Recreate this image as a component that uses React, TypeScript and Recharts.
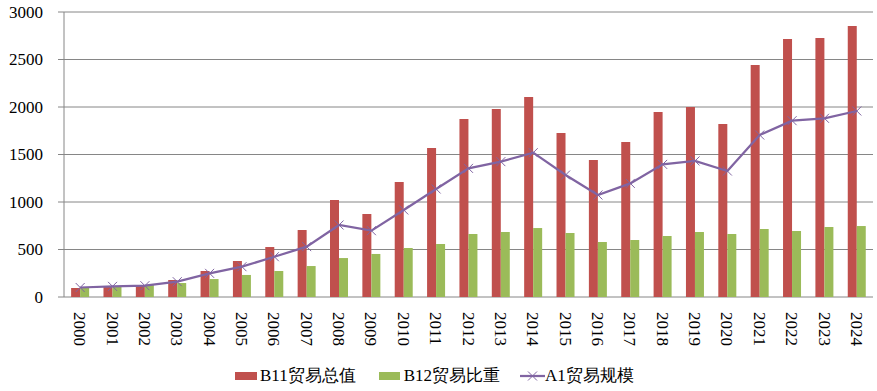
import React from 'react';
import { ComposedChart, Bar, Line, XAxis, YAxis, CartesianGrid } from 'recharts';

const years = ['2000','2001','2002','2003','2004','2005','2006','2007','2008','2009','2010','2011','2012','2013','2014','2015','2016','2017','2018','2019','2020','2021','2022','2023','2024'];
const b11Values = [95, 112, 119, 179, 274, 379, 526, 705, 1021, 874, 1211, 1568, 1874, 1979, 2105, 1726, 1442, 1632, 1947, 2000, 1821, 2442, 2716, 2726, 2853];
const b12Values = [98, 110, 126, 147, 189, 232, 274, 326, 410, 453, 516, 558, 663, 684, 726, 674, 579, 600, 642, 684, 663, 716, 695, 737, 747];
const a1Values = [100, 112, 119, 161, 249, 319, 424, 530, 758, 698, 916, 1137, 1354, 1425, 1519, 1284, 1074, 1196, 1396, 1432, 1326, 1705, 1856, 1881, 1958];
const yTicks = [0, 500, 1000, 1500, 2000, 2500, 3000];
const seriesNames = ['B11贸易总值', 'B12贸易比重', 'A1贸易规模'];

const data = years.map((y, i) => ({ year: y, b11: b11Values[i], b12: b12Values[i], a1: a1Values[i] }));
const boundaryTicks = Array.from({ length: years.length + 1 }, (_, i) => i);

const RED = '#C0504D';
const GREEN = '#9BBB59';
const PURPLE = '#8064A2';
const GRID = '#868686';
const FONT = "Liberation Serif, DejaVu Serif, serif";

const CrossDot = (props: any) => {
  const { cx, cy } = props;
  if (cx == null || cy == null) return null;
  const r = 4.5;
  return (
    <g>
      <line x1={cx - r} y1={cy - r} x2={cx + r} y2={cy + r} stroke={PURPLE} strokeWidth={1} />
      <line x1={cx - r} y1={cy + r} x2={cx + r} y2={cy - r} stroke={PURPLE} strokeWidth={1} />
    </g>
  );
};

const YearTick = (props: any) => {
  const { x, y, payload } = props;
  return (
    <g transform={`translate(${x},${y})`}>
      <text transform="rotate(90)" x={0} y={0} dy="0.35em" textAnchor="start" fontSize={17} style={{ fontFamily: FONT }} fill="#000">
        {payload.value}
      </text>
    </g>
  );
};

const YValueTick = (props: any) => {
  const { x, y, payload } = props;
  return (
    <text x={x} y={y} dy="0.35em" textAnchor="end" fontSize={17} style={{ fontFamily: FONT }} fill="#000">
      {payload.value}
    </text>
  );
};

export default function App() {
  return (
    <div style={{ position: 'absolute', left: 0, top: 0, width: 877, height: 391, background: '#fff', fontFamily: FONT }}>
      <ComposedChart width={877} height={391} data={data} margin={{ top: 12, right: 4, left: 0, bottom: 34 }} barCategoryGap="22%" barGap={0} style={{ fontFamily: FONT }}>
        <CartesianGrid vertical={false} stroke={GRID} strokeWidth={1} xAxisId="cat" />
        <XAxis xAxisId="grid" type="number" domain={[0, years.length]} ticks={boundaryTicks} tick={false} tickLine={{ stroke: GRID }} tickSize={6} axisLine={{ stroke: GRID }} height={0} allowDataOverflow />
        <XAxis xAxisId="cat" dataKey="year" axisLine={false} tickLine={false} tickSize={0} tickMargin={15} interval={0} height={60} tick={<YearTick />} />
        <YAxis domain={[0, 3000]} ticks={yTicks} width={64} tickSize={6} tickMargin={15} axisLine={{ stroke: GRID }} tickLine={{ stroke: GRID }} tick={<YValueTick />} interval={0} />
        <Bar xAxisId="cat" dataKey="b11" name={seriesNames[0]} fill={RED} isAnimationActive={false} />
        <Bar xAxisId="cat" dataKey="b12" name={seriesNames[1]} fill={GREEN} isAnimationActive={false} />
        <Line xAxisId="cat" type="linear" dataKey="a1" name={seriesNames[2]} stroke={PURPLE} strokeWidth={2.25} dot={<CrossDot />} activeDot={false} isAnimationActive={false} />
      </ComposedChart>
      <div style={{ position: 'absolute', left: 235, top: 365, display: 'flex', alignItems: 'center', fontSize: 17, fontFamily: FONT, color: '#000', whiteSpace: 'nowrap', lineHeight: '22px' }}>
        <span style={{ display: 'inline-block', width: 22, height: 8, background: RED, marginRight: 3 }} />
        <span style={{ marginRight: 23 }}>{seriesNames[0]}</span>
        <span style={{ display: 'inline-block', width: 21, height: 8, background: GREEN, marginRight: 4 }} />
        <span style={{ marginRight: 20 }}>{seriesNames[1]}</span>
        <svg width={25} height={12} style={{ marginRight: 0 }}>
          <line x1={0} y1={6} x2={25} y2={6} stroke={PURPLE} strokeWidth={2.25} />
          <line x1={8} y1={1.5} x2={17} y2={10.5} stroke={PURPLE} strokeWidth={1} />
          <line x1={8} y1={10.5} x2={17} y2={1.5} stroke={PURPLE} strokeWidth={1} />
        </svg>
        <span>{seriesNames[2]}</span>
      </div>
    </div>
  );
}
